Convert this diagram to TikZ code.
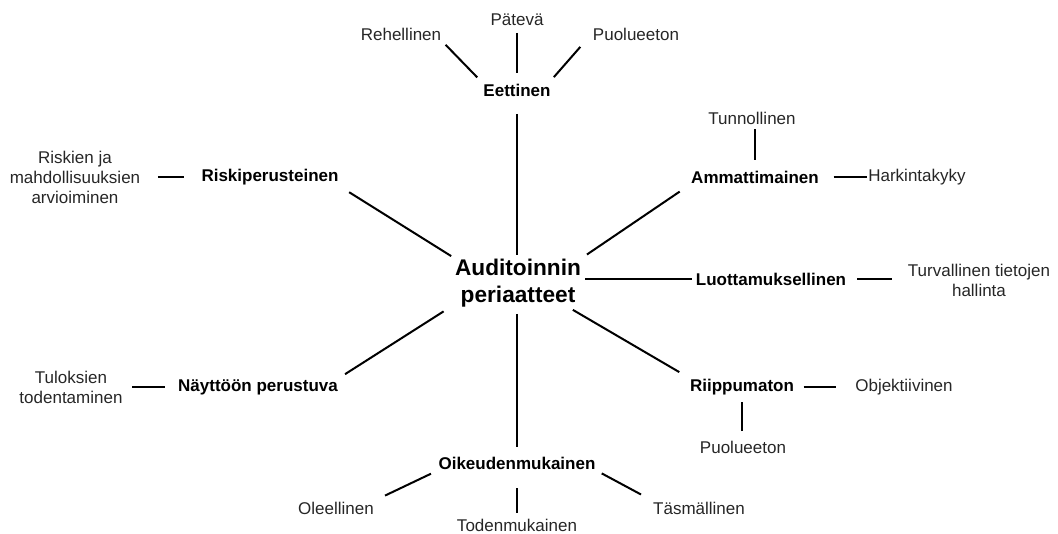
\documentclass[tikz,border=0pt]{standalone}
\usepackage{fontspec}
\setmainfont{Liberation Sans}
\usepackage{xcolor}
\usetikzlibrary{calc}

\begin{document}
\begin{tikzpicture}[x=0.75pt, y=-0.75pt,
    core/.style={inner sep=1pt, align=center, font=\fontsize{17}{20}\selectfont\bfseries},
    branch/.style={inner sep=1pt, font=\fontsize{12.75}{15}\selectfont\bfseries},
    leaf/.style={inner sep=1pt, align=center, text=black!85, font=\fontsize{12.75}{15}\selectfont},
    link/.style={line width=1.5pt}]
    \useasboundingbox (0,0) rectangle (1058,533);

    \node[core] (aud) at (518,283) {Auditoinnin\\periaatteet};

    \node[branch] (eet) at (517,90) {Eettinen};
    \node[leaf] (reh) at (401,34) {Rehellinen};
    \node[leaf] (pat) at (517,20) {Pätevä};
    \node[leaf] (puoa) at (636,34) {Puolueeton};

    \node[branch] (ris) at (270,177) {Riskiperusteinen};
    \node[leaf] (rja) at (75,177) {Riskien ja\\mahdollisuuksien\\arvioiminen};

    \node[branch] (amm) at (755,177) {Ammattimainen};
    \node[leaf] (tun) at (752,118) {Tunnollinen};
    \node[leaf] (har) at (917,177) {Harkintakyky};

    \node[branch] (luo) at (771,279) {Luottamuksellinen};
    \node[leaf] (tur) at (979,280) {Turvallinen tietojen\\hallinta};

    \node[branch] (rii) at (742,387) {Riippumaton};
    \node[leaf] (obj) at (904,387) {Objektiivinen};
    \node[leaf] (puob) at (743,447) {Puolueeton};

    \node[branch] (oik) at (517,463) {Oikeudenmukainen};
    \node[leaf] (ole) at (336,508) {Oleellinen};
    \node[leaf] (tod) at (517,525) {Todenmukainen};
    \node[leaf] (tas) at (699,508) {Täsmällinen};

    \node[branch] (nay) at (258,387) {Näyttöön perustuva};
    \node[leaf] (tul) at (71,387) {Tuloksien\\todentaminen};

    \draw[link, shorten <=3pt, shorten >=5pt] (reh.south east) -- (eet.north west);
    \draw[link, shorten <=4pt, shorten >=7pt] (pat.south) -- (eet.north);
    \draw[link, shorten <=5pt, shorten >=5pt] ([xshift=-5pt]puoa.south west) -- ([xshift=-2pt]eet.north east);
    \draw[link, shorten <=12pt, shorten >=2pt] (eet.south) -- (eet.south |- aud.north);

    \draw[link, shorten <=8pt, shorten >=2pt] (ris.south east) -- (aud.north west);
    \draw[link, shorten <=12pt, shorten >=12pt] (rja.east |- ris.west) -- (ris.west);

    \draw[link, shorten <=4pt, shorten >=9pt] (aud.north east) -- (amm.south west);
    \draw[link, shorten <=7pt, shorten >=2pt] (amm.north) -- (amm.north |- tun.south);
    \draw[link, shorten <=10pt] (amm.east) -- (har.west);

    \draw[link, shorten <=2pt, shorten >=2pt] (luo.west -| aud.east) -- (luo.west);
    \draw[link, shorten <=7pt, shorten >=11pt] (luo.east) -- (luo.east -| tur.west);

    \draw[link, shorten <=2pt, shorten >=8pt] ([xshift=-9pt]aud.south east) -- (rii.north west);
    \draw[link, shorten <=6pt, shorten >=13pt] (rii.east) -- (obj.west);
    \draw[link, shorten <=6pt, shorten >=4pt] (puob.north -| rii.south) -- (rii.south) ;

    \draw[link, shorten <=4pt, shorten >=6pt] (oik.north |- aud.south) -- (oik.north);
    \draw[link, shorten <=5pt, shorten >=8pt] (oik.south west) -- (ole.north east);
    \draw[link, shorten <=13pt, shorten >=3pt] (oik.south) -- (tod.north);
    \draw[link, shorten <=4pt, shorten >=9pt] (oik.south east) -- (tas.north west);

    \draw[link, shorten <=4pt, shorten >=5pt] ([xshift=-4pt]aud.south west) -- (nay.north east);
    \draw[link, shorten <=6pt, shorten >=9pt] (tul.east) -- (nay.west);
\end{tikzpicture}
\end{document}
